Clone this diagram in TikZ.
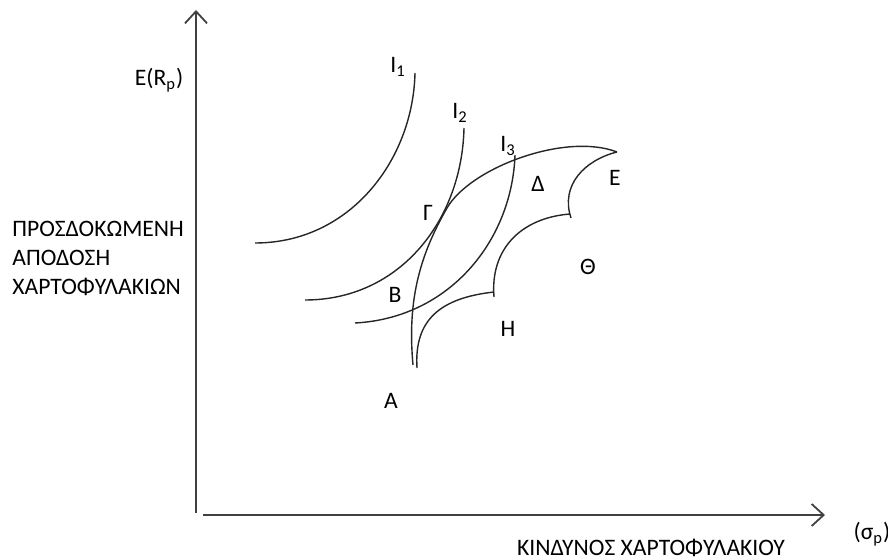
\documentclass[tikz,border=0pt]{standalone}
\usepackage{fontspec}
\setmainfont{Carlito}
\usepackage{tikz}
\usetikzlibrary{arrows.meta}

\begin{document}
\begin{tikzpicture}[
    x=0.5pt, y=-0.5pt,
    axis/.style={line width=1.2pt, draw=black!75,
                 -{Straight Barb[length=6pt, width=11pt, line width=0.9pt]}},
    curve/.style={line width=0.7pt, draw=black!85},
    lbl/.style={font=\fontsize{11.8}{13}\selectfont, inner sep=0pt},
    ttl/.style={font=\fontsize{11.8}{14.5}\selectfont, inner sep=0pt, align=left},
]
\useasboundingbox (0,0) rectangle (888,560);

\coordinate (yb) at (196,513);
\coordinate (yt) at (196,10);
\coordinate (xl) at (203,515);
\coordinate (xr) at (825,515);

\draw[axis] (yb) -- (yt);
\draw[axis] (xl) -- (xr);

\node[lbl] (er) at (159,80) {E(R\textsubscript{p})};
\node[ttl, anchor=west] (ret) at (12,258) {ΠΡΟΣΔΟΚΩΜΕΝΗ\\ΑΠΟΔΟΣΗ\\ΧΑΡΤΟΦΥΛΑΚΙΩΝ};
\node[lbl] (risk) at (651,548) {ΚΙΝΔΥΝΟΣ ΧΑΡΤΟΦΥΛΑΚΙΟΥ};
\node[lbl] (sig) at (872,534) {(σ\textsubscript{p})};

% indifference curves
\draw[curve] (415,73) .. controls (413,160) and (350,243) .. (255,243);
\draw[curve] (464,128) .. controls (462,220) and (400,300) .. (305,300);
\draw[curve] (515,155) .. controls (512,240) and (450,318) .. (355,323);

% feasible set
\draw[curve] (413,365) .. controls (407,300) and (420,255) .. (447,208)
             .. controls (470,168) and (565,132) .. (617,152);
\draw[curve] (417,368) .. controls (414,320) and (440,298) .. (494,292);
\draw[curve] (494,297) .. controls (490,250) and (520,218) .. (570,214);
\draw[curve] (571,218) .. controls (560,185) and (585,160) .. (617,152);

\node[lbl] (i1) at (398,67) {I\textsubscript{1}};
\node[lbl] (i2) at (460,113) {I\textsubscript{2}};
\node[lbl] (i3) at (508,146) {I\textsubscript{3}};
\node[lbl] (pa) at (391,401) {Α};
\node[lbl] (pb) at (395,295) {Β};
\node[lbl] (pg) at (428,213) {Γ};
\node[lbl] (pd) at (538,184) {Δ};
\node[lbl] (pe) at (615,178) {Ε};
\node[lbl] (ph) at (508,329) {Η};
\node[lbl] (pth) at (588,267) {Θ};
\end{tikzpicture}
\end{document}
